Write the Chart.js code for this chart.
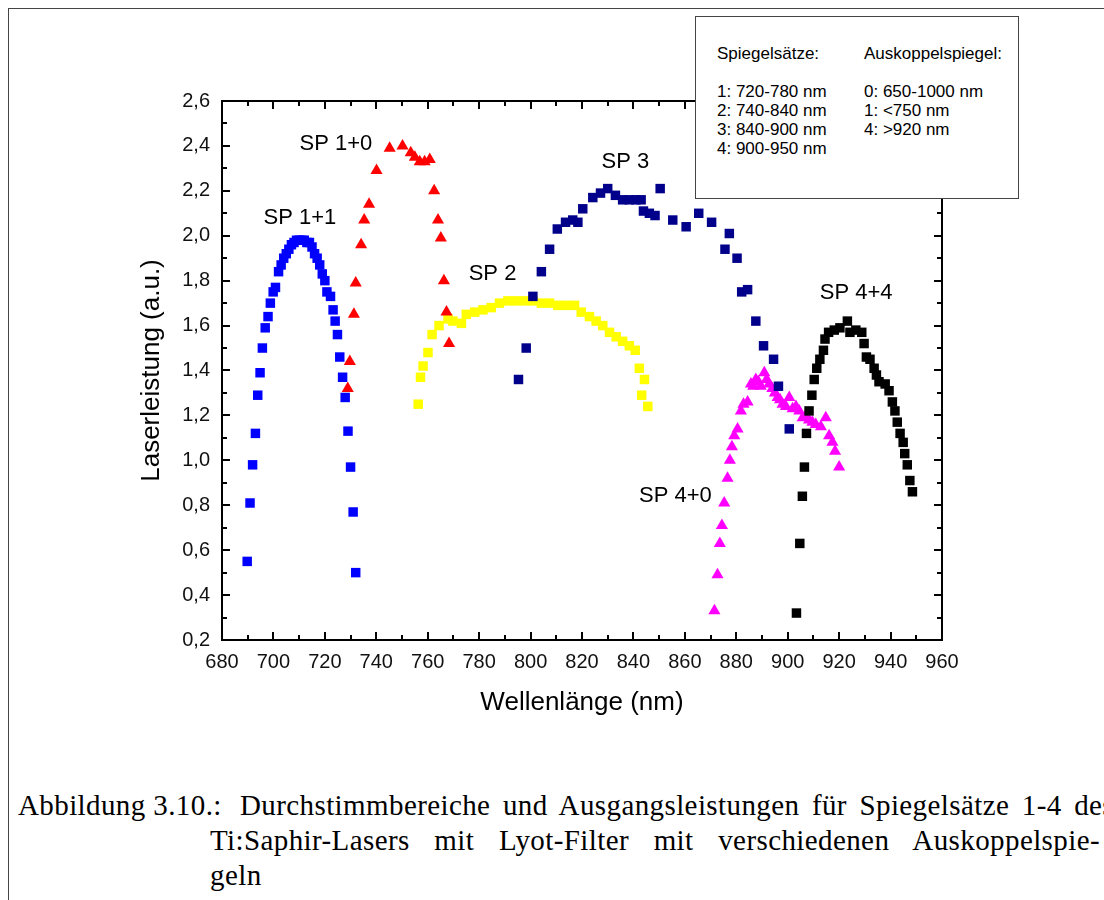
<!DOCTYPE html>
<html>
<head>
<meta charset="utf-8">
<script src="https://cdn.jsdelivr.net/npm/chart.js@4.4.0/dist/chart.umd.min.js"></script>
<style>
  html, body { margin: 0; padding: 0; background: #fff; overflow: hidden; }
  body { width: 1104px; height: 900px; position: relative; font-family: "Liberation Sans", Arial, sans-serif; }
  .frame { position: absolute; left: 8px; top: 8px; width: 1200px; height: 1000px; border-left: 1px solid #444; border-top: 1px solid #444; }
  #wrap { position: absolute; left: 0; top: 0; width: 1104px; height: 760px; }
  .legendBox { position: absolute; left: 695px; top: 16px; width: 322px; height: 181px; border: 1px solid #444; background: #fff; font-size: 17px; line-height: 19px; color: #000; }
  .legendBox .col { position: absolute; top: 27px; white-space: pre; }
  .cap { position: absolute; font-family: "Liberation Serif", "Times New Roman", serif; font-size: 29px; letter-spacing: 0.4px; line-height: 35px; color: #000; white-space: nowrap; }
  .just { text-align: justify; text-align-last: justify; }
</style>
</head>
<body>
<div class="frame"></div>
<div id="wrap"><canvas id="chart" width="1104" height="760"></canvas></div>
<div class="legendBox">
  <div class="col" style="left:21px">Spiegelsätze:

1: 720-780 nm
2: 740-840 nm
3: 840-900 nm
4: 900-950 nm</div>
  <div class="col" style="left:168px">Auskoppelspiegel:

0: 650-1000 nm
1: &lt;750 nm
4: &gt;920 nm</div>
</div>
<div class="cap" style="left:18px; top:788px;">Abbildung 3.10.:</div>
<div class="cap just" style="left:240px; top:788px; width:874px;">Durchstimmbereiche und Ausgangsleistungen für Spiegelsätze 1-4 des</div>
<div class="cap just" style="left:210px; top:823px; width:890px;">Ti:Saphir-Lasers mit Lyot-Filter mit verschiedenen Auskoppelspie-</div>
<div class="cap" style="left:210px; top:858px;">geln</div>

<script>
// Wavelength (nm) and laser power (a.u.) per mirror set
const sp11Wl = [689.8, 690.9, 691.9, 693.0, 693.9, 694.8, 695.7, 696.8, 697.9, 698.8, 699.9, 700.8, 702.0, 703.0, 704.0, 705.0, 706.0, 707.0, 708.0, 709.0, 710.0, 711.0, 712.0, 713.0, 714.0, 715.0, 716.0, 717.0, 718.0, 719.0, 720.0, 720.8, 722.2, 723.2, 724.0, 724.9, 725.8, 726.9, 727.9, 729.0, 730.0, 731.0, 732.0];
const sp11P  = [0.55, 0.81, 0.98, 1.12, 1.29, 1.39, 1.50, 1.59, 1.64, 1.70, 1.75, 1.77, 1.84, 1.87, 1.90, 1.92, 1.94, 1.96, 1.97, 1.98, 1.98, 1.98, 1.98, 1.97, 1.97, 1.95, 1.92, 1.90, 1.87, 1.83, 1.80, 1.75, 1.73, 1.67, 1.62, 1.56, 1.46, 1.37, 1.28, 1.13, 0.97, 0.77, 0.50];

const sp10Wl = [728.9, 729.7, 731.3, 732.0, 734.1, 735.3, 737.2, 740.1, 745.2, 750.2, 753.4, 755.0, 756.9, 758.8, 760.8, 762.5, 764.0, 765.1, 766.3, 767.3, 768.3];
const sp10P  = [1.32, 1.44, 1.65, 1.79, 1.96, 2.07, 2.14, 2.29, 2.39, 2.40, 2.37, 2.35, 2.33, 2.33, 2.34, 2.20, 2.07, 1.99, 1.80, 1.66, 1.52];

const sp2Wl = [756.3, 757.2, 758.2, 760.1, 761.7, 764.4, 767.9, 769.8, 773.1, 775.0, 778.3, 781.5, 784.7, 787.9, 791.2, 794.4, 797.7, 800.9, 804.2, 807.4, 810.6, 813.9, 817.1, 819.7, 822.9, 825.5, 828.1, 830.7, 833.3, 835.8, 838.4, 840.7, 842.3, 844.3, 843.2, 845.6];
const sp2P  = [1.25, 1.37, 1.42, 1.48, 1.56, 1.60, 1.63, 1.62, 1.61, 1.65, 1.66, 1.67, 1.68, 1.70, 1.71, 1.71, 1.71, 1.71, 1.70, 1.70, 1.69, 1.69, 1.69, 1.66, 1.64, 1.62, 1.60, 1.57, 1.55, 1.53, 1.51, 1.49, 1.41, 1.36, 1.29, 1.24];

const sp3Wl = [795.3, 798.3, 800.9, 804.2, 807.4, 810.4, 813.6, 816.4, 818.4, 820.3, 824.2, 827.2, 830.0, 833.0, 835.8, 838.4, 841.0, 843.0, 843.9, 846.2, 848.4, 850.4, 855.3, 860.5, 865.4, 870.4, 875.6, 877.3, 880.3, 882.1, 884.4, 887.6, 890.6, 894.5, 896.4, 900.6];
const sp3P  = [1.36, 1.50, 1.73, 1.84, 1.94, 2.03, 2.06, 2.07, 2.06, 2.12, 2.17, 2.19, 2.21, 2.18, 2.16, 2.16, 2.16, 2.16, 2.11, 2.10, 2.09, 2.21, 2.07, 2.04, 2.10, 2.06, 1.94, 2.01, 1.90, 1.75, 1.76, 1.62, 1.51, 1.45, 1.33, 1.14];

const sp40Wl = [871.5, 872.7, 873.6, 874.4, 875.3, 876.6, 877.5, 878.3, 879.2, 880.5, 881.8, 882.8, 884.4, 885.7, 886.6, 887.6, 888.6, 889.5, 890.9, 891.8, 892.8, 894.0, 895.0, 896.1, 897.0, 898.0, 899.3, 900.6, 901.9, 903.2, 904.5, 905.8, 907.0, 908.3, 909.6, 910.9, 912.9, 914.8, 916.1, 917.4, 918.4, 920.0];
const sp40P  = [0.33, 0.49, 0.63, 0.71, 0.81, 0.92, 1.00, 1.06, 1.11, 1.14, 1.22, 1.25, 1.26, 1.34, 1.33, 1.36, 1.35, 1.33, 1.39, 1.36, 1.34, 1.32, 1.30, 1.28, 1.27, 1.25, 1.24, 1.28, 1.23, 1.24, 1.22, 1.19, 1.20, 1.18, 1.17, 1.16, 1.15, 1.19, 1.11, 1.08, 1.04, 0.97];

const sp44Wl = [903.4, 904.7, 905.7, 906.5, 907.3, 908.3, 909.4, 910.3, 911.3, 912.5, 913.9, 914.5, 915.9, 918.1, 920.3, 923.2, 924.2, 926.5, 928.8, 929.7, 930.6, 932.0, 933.6, 934.5, 935.5, 937.9, 939.4, 940.7, 941.7, 942.6, 943.7, 944.9, 945.5, 946.5, 947.5, 948.5];
const sp44P  = [0.32, 0.63, 0.84, 0.97, 1.12, 1.22, 1.29, 1.36, 1.41, 1.45, 1.49, 1.54, 1.57, 1.58, 1.59, 1.62, 1.57, 1.58, 1.57, 1.52, 1.46, 1.45, 1.41, 1.38, 1.35, 1.34, 1.31, 1.26, 1.22, 1.17, 1.12, 1.08, 1.03, 0.98, 0.91, 0.86];

// Curve labels, anchored in data coordinates
const curveLabels = ['SP 1+1', 'SP 1+0', 'SP 2', 'SP 3', 'SP 4+4', 'SP 4+0'];
const curveLabelWl = [710.3, 724.3, 785.2, 836.9, 926.6, 856.3];
const curveLabelP = [2.08, 2.41, 1.83, 2.33, 1.745, 0.84];

const xMin = 680, xMax = 960, xStep = 20;
const yMin = 0.2, yMax = 2.6, yStep = 0.2;

function toPoints(xs, ys) {
    return xs.map((x, i) => ({ x: x, y: ys[i] }));
}

const fontFamily = '"Liberation Sans", Arial, sans-serif';

// frame with inward ticks on all four sides, plus curve labels
const framePlugin = {
    id: 'frame',
    afterDraw(chart) {
        const ctx = chart.ctx;
        const area = chart.chartArea;
        const xs = chart.scales.x;
        const ys = chart.scales.y;
        ctx.save();
        ctx.strokeStyle = '#000';
        ctx.lineWidth = 2;
        ctx.strokeRect(area.left, area.top, area.right - area.left, area.bottom - area.top);

        ctx.beginPath();
        for (let v = xMin; v <= xMax; v += xStep / 2) {
            const px = Math.round(xs.getPixelForValue(v));
            const len = ((v - xMin) % xStep === 0) ? 8 : 5;
            ctx.moveTo(px, area.bottom); ctx.lineTo(px, area.bottom - len);
            ctx.moveTo(px, area.top); ctx.lineTo(px, area.top + len);
        }
        const nY = Math.round((yMax - yMin) / (yStep / 2));
        for (let i = 0; i <= nY; i++) {
            const v = yMin + i * yStep / 2;
            const py = Math.round(ys.getPixelForValue(v));
            const len = (i % 2 === 0) ? 8 : 5;
            ctx.moveTo(area.left, py); ctx.lineTo(area.left + len, py);
            ctx.moveTo(area.right, py); ctx.lineTo(area.right - len, py);
        }
        ctx.stroke();

        ctx.fillStyle = '#000';
        ctx.font = '22px ' + fontFamily;
        ctx.textAlign = 'center';
        ctx.textBaseline = 'middle';
        curveLabels.forEach((t, i) => {
            ctx.fillText(t, xs.getPixelForValue(curveLabelWl[i]), ys.getPixelForValue(curveLabelP[i]));
        });
        ctx.restore();
    }
};

const ctx = document.getElementById('chart').getContext('2d');
const chart = new Chart(ctx, {
    type: 'scatter',
    data: {
        datasets: [
            { label: 'SP 4+4', data: toPoints(sp44Wl, sp44P), backgroundColor: '#000000', borderColor: '#000000', pointStyle: 'rect', pointRadius: 6.7, borderWidth: 0 },
            { label: 'SP 3', data: toPoints(sp3Wl, sp3P), backgroundColor: '#00008b', borderColor: '#00008b', pointStyle: 'rect', pointRadius: 6.7, borderWidth: 0 },
            { label: 'SP 1+0', data: toPoints(sp10Wl, sp10P), backgroundColor: '#ff0000', borderColor: '#ff0000', pointStyle: 'triangle', pointRadius: 7, borderWidth: 0 },
            { label: 'SP 4+0', data: toPoints(sp40Wl, sp40P), backgroundColor: '#ff00ff', borderColor: '#ff00ff', pointStyle: 'triangle', pointRadius: 7, borderWidth: 0 },
            { label: 'SP 1+1', data: toPoints(sp11Wl, sp11P), backgroundColor: '#0000ff', borderColor: '#0000ff', pointStyle: 'rect', pointRadius: 6.7, borderWidth: 0 },
            { label: 'SP 2', data: toPoints(sp2Wl, sp2P), backgroundColor: '#ffff00', borderColor: '#ffff00', pointStyle: 'rect', pointRadius: 6.7, borderWidth: 0 }
        ]
    },
    options: {
        responsive: false,
        animation: false,
        layout: { padding: { left: 130, right: 162, top: 101, bottom: 40 } },
        plugins: {
            legend: { display: false },
            tooltip: { enabled: false }
        },
        scales: {
            x: {
                type: 'linear',
                min: xMin,
                max: xMax,
                grid: { display: false, drawTicks: false },
                border: { display: false },
                ticks: {
                    stepSize: xStep,
                    autoSkip: false,
                    maxRotation: 0,
                    padding: 10,
                    color: '#111',
                    font: { family: fontFamily, size: 20 }
                },
                title: {
                    display: true,
                    text: 'Wellenlänge (nm)',
                    color: '#000',
                    font: { family: fontFamily, size: 26 },
                    padding: { top: 0, bottom: 2 }
                },
                afterFit: function(scale) { scale.height = 80; }
            },
            y: {
                type: 'linear',
                min: yMin,
                max: yMax,
                grid: { display: false, drawTicks: false },
                border: { display: false },
                ticks: {
                    stepSize: yStep,
                    padding: 12,
                    color: '#111',
                    font: { family: fontFamily, size: 20 },
                    callback: function(v) { return v.toFixed(1).replace('.', ','); }
                },
                title: {
                    display: true,
                    text: 'Laserleistung (a.u.)',
                    color: '#000',
                    font: { family: fontFamily, size: 26 },
                    padding: { top: 6, bottom: 0 }
                },
                afterFit: function(scale) { scale.width = 92; }
            }
        }
    },
    plugins: [framePlugin]
});
</script>
</body>
</html>
